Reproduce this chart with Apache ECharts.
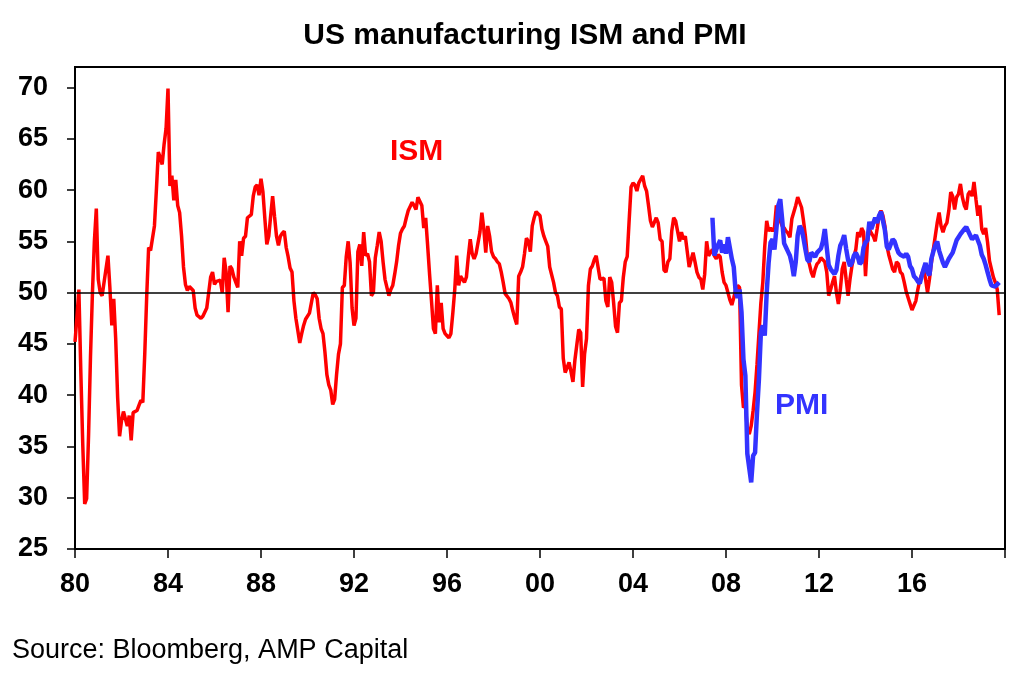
<!DOCTYPE html>
<html>
<head>
<meta charset="utf-8">
<script src="https://cdn.jsdelivr.net/npm/echarts@6/dist/echarts.min.js"></script>
<style>
  html, body { margin: 0; padding: 0; background: #fff; }
  #chart { width: 1024px; height: 673px; }
</style>
</head>
<body>
<div id="chart"></div>
<script>
// monthly readings, month-end; index 0 sits on the "80" tick (Dec 1979 month-end)
var ismStart = 0;
var ismValues = [
  45.2, 47.6, 50.3, 42.3, 35.2, 29.4, 29.9, 36.1, 43.8, 50.0, 55.0, 58.2,
  51.3, 50.0, 49.7, 51.0, 52.3, 53.6, 50.5, 46.8, 49.4, 45.5, 39.8, 36.0,
  37.5, 38.4, 38.5, 37.0, 38.0, 35.6, 38.3, 38.4, 38.5, 39.0, 39.5, 39.3,
  44.0, 49.6, 54.4, 54.1, 55.3, 56.5, 60.0, 63.7, 63.2, 62.5, 64.5, 66.0,
  69.9, 60.4, 61.4, 59.0, 61.0, 58.5, 57.8, 55.5, 52.5, 50.8, 50.2, 50.6,
  50.5, 50.2, 48.5, 47.8, 47.7, 47.5, 47.7, 47.7, 48.5, 50.0, 51.5, 52.0,
  50.8, 51.1, 51.2, 51.2, 50.0, 53.4, 52.0, 48.1, 52.6, 52.3, 51.5, 51.0,
  50.5, 55.0, 53.6, 55.3, 55.5, 57.3, 57.4, 57.6, 59.4, 60.3, 60.5, 59.5,
  61.1, 59.8, 57.2, 54.7, 55.5, 57.5, 59.4, 57.4, 55.5, 54.6, 55.5, 55.8,
  56.0, 54.4, 53.5, 52.4, 52.0, 49.2, 47.5, 46.3, 45.1, 46.0, 46.8, 47.4,
  47.4, 48.0, 49.0, 50.0, 49.8, 49.4, 47.5, 46.5, 46.0, 44.2, 42.0, 41.0,
  40.5, 39.1, 39.6, 42.0, 44.0, 45.0, 50.5, 50.7, 53.5, 55.0, 52.9, 48.5,
  46.8, 47.5, 54.0, 54.7, 52.6, 55.9, 53.6, 53.8, 53.0, 49.7, 50.0, 53.4,
  54.6, 55.9, 55.0, 53.0, 51.3, 51.3, 49.7, 50.3, 50.7, 51.8, 53.0, 54.6,
  55.8, 56.2, 56.5, 57.3, 58.0, 58.4, 58.8, 58.5, 58.1, 59.3, 59.3, 58.5,
  56.3, 57.3, 54.6, 51.8, 49.2, 46.5, 46.0, 50.7, 47.1, 49.0, 46.5, 46.0,
  45.8, 45.6, 46.0, 48.0, 50.3, 53.6, 50.7, 51.6, 51.5, 51.0, 51.5, 53.5,
  55.2, 53.8, 53.3, 53.8, 53.9, 55.9, 57.8, 56.2, 53.9, 56.5, 55.5, 54.0,
  53.5, 53.3, 53.0, 52.8, 52.0, 51.0, 49.9, 50.0, 49.4, 49.0, 48.2, 47.5,
  46.9, 51.6, 52.0, 52.5, 53.8, 55.3, 55.0, 54.0, 56.5, 57.3, 57.9, 58.0,
  57.5, 56.2, 55.5, 55.0, 54.5, 52.5, 52.6, 51.0, 50.0, 49.7, 48.6, 48.4,
  43.6, 42.2, 42.2, 43.2, 42.3, 41.3, 43.4, 43.5, 46.4, 46.1, 40.8, 44.0,
  45.5, 50.7, 52.3, 52.6, 53.2, 53.6, 53.6, 51.3, 51.3, 51.4, 49.2, 48.6,
  51.5, 51.0, 49.0, 46.7, 46.1, 49.0, 49.2, 51.5, 53.0, 53.5, 57.0, 60.3,
  60.7, 60.5, 59.9, 60.7, 60.7, 61.4, 60.4, 59.9, 58.5, 57.0, 56.4, 56.4,
  57.3, 56.8, 55.2, 55.0, 52.2, 52.0, 53.0, 53.3, 56.0, 57.3, 57.0, 56.0,
  55.0, 55.9, 55.2, 55.5, 54.0, 52.5, 52.5, 53.9, 53.0, 52.0, 51.5, 51.3,
  50.3, 51.8, 55.0, 53.6, 53.6, 54.2, 53.6, 53.3, 53.7, 53.5, 52.0, 51.0,
  50.7, 50.0, 49.3, 48.8, 49.5, 50.3, 50.7, 50.5, 41.0, 38.8, 39.0, 36.7,
  36.2, 37.0, 38.5, 40.3, 43.0, 46.0, 49.0, 51.0, 54.5, 57.0, 56.0, 56.3,
  56.0, 56.3, 58.5, 57.8, 57.0, 56.5, 56.3, 56.0, 55.8, 55.4, 57.2, 57.3,
  58.5, 59.3, 59.3, 58.3, 57.0, 55.5, 53.5, 52.8, 52.0, 51.5, 52.3, 52.8,
  53.0, 53.4, 53.3, 53.0, 52.0, 49.7, 50.3, 51.0, 51.6, 50.0, 48.9, 50.3,
  52.3, 53.0, 51.3, 49.7, 51.3, 52.6, 53.5, 54.2, 55.9, 55.4, 56.3, 55.9,
  51.6, 54.9, 56.2, 55.8, 55.5, 55.0, 56.2, 57.5, 58.0, 57.5, 56.5, 54.6,
  53.7, 53.0, 52.3, 52.0, 53.0, 52.8, 52.0, 51.8, 51.0, 50.1, 49.5, 48.9,
  48.3, 48.2, 49.2, 50.3, 51.2, 51.8, 52.3, 51.3, 50.0, 51.3, 52.9, 54.2,
  55.5, 56.8, 57.8, 56.5, 55.9, 56.5, 56.8, 58.0, 59.8, 59.4, 58.1, 59.3,
  59.6, 60.6, 59.3, 58.5, 58.1, 59.6, 59.9, 59.4, 60.8, 59.1, 57.5, 58.5,
  56.2, 55.7, 56.3, 54.9, 53.1, 52.3, 51.5, 51.0, 50.3, 47.8
];

// PMI starts May 2007
var pmiStart = 329;
var pmiValues = [
  57.3, 53.6, 54.2, 54.7, 55.1, 53.9, 54.7, 53.8, 55.4, 55.5, 53.3, 52.5,
  50.0, 49.5, 50.3, 48.1, 43.5, 41.9, 34.3, 34.4, 31.5, 34.1, 34.4, 38.3,
  41.6, 46.1, 46.8, 45.8, 50.0, 52.9, 54.9, 55.2, 54.2, 56.2, 58.5, 59.1,
  57.1, 54.8, 54.4, 54.0, 53.6, 52.8, 51.6, 53.0, 55.6, 56.5, 56.2, 55.3,
  54.2, 53.2, 53.0, 53.9, 53.8, 53.5, 53.9, 54.1, 54.3, 55.0, 56.2, 54.4,
  52.7, 52.3, 52.2, 51.8, 52.2, 53.6, 54.6, 55.0, 55.6, 54.3, 53.2, 52.6,
  52.9, 53.6, 53.9, 53.5, 52.8, 53.0, 54.4, 54.9, 55.1, 56.9, 56.2, 56.3,
  57.3, 56.8, 57.5, 57.9, 57.0, 56.1, 54.5, 54.2,
  54.3, 55.2, 55.0, 54.4, 53.9, 53.7, 53.6, 53.5, 53.8, 53.5, 52.6, 52.3,
  51.6, 51.4, 51.1, 50.9, 51.6, 52.3, 52.9, 52.0, 51.7, 53.3, 54.0, 54.6,
  55.0, 54.1, 53.5, 52.9, 52.5, 52.5, 53.3, 53.3, 53.9, 54.5, 55.1, 55.4,
  55.7, 55.7, 56.2, 56.4, 56.3, 55.6, 55.2, 55.4, 55.6, 55.6, 54.6, 53.7,
  53.3, 52.7, 52.0, 51.3, 50.7, 50.6, 50.6, 50.8, 51.0
];

var yTicks = [25, 30, 35, 40, 45, 50, 55, 60, 65, 70];
var xTickYears = [1980, 1984, 1988, 1992, 1996, 2000, 2004, 2008, 2012, 2016, 2020];
var xLabelYears = [1980, 1984, 1988, 1992, 1996, 2000, 2004, 2008, 2012, 2016];

var fontFamily = 'Arial, "Liberation Sans", sans-serif';

function toPoints(values, start) {
  return values.map(function (v, i) {
    return [1980 + (start + i) / 12, v];
  });
}

var chart = echarts.init(document.getElementById("chart"));
var option = {
  animation: false,
  backgroundColor: "#fff",
  grid: {
    left: 75,
    right: 19,
    top: 67,
    bottom: 124,
    show: true,
    borderColor: "#000",
    borderWidth: 2,
  },
  xAxis: {
    type: "value",
    min: 1980,
    max: 2020,
    interval: 4,
    axisLine: { lineStyle: { color: "#000", width: 2 } },
    axisTick: {
      inside: false,
      length: 9,
      customValues: xTickYears,
      lineStyle: { color: "#000", width: 1.5 },
    },
    splitLine: { show: false },
    axisLabel: {
      customValues: xLabelYears,
      margin: 22,
      color: "#000",
      fontSize: 27,
      fontWeight: "bold",
      fontFamily: fontFamily,
      formatter: function (v) {
        if (v >= 2020) return "";
        return String(v).slice(2);
      },
    },
  },
  yAxis: {
    type: "value",
    min: 25,
    max: 72,
    interval: 5,
    axisLine: { show: true, lineStyle: { color: "#000", width: 2 } },
    axisTick: {
      show: true,
      inside: false,
      length: 8,
      customValues: yTicks,
      lineStyle: { color: "#000", width: 1.5 },
    },
    splitLine: { show: false },
    axisLabel: {
      customValues: yTicks,
      margin: 27,
      color: "#000",
      fontSize: 27,
      fontWeight: "bold",
      fontFamily: fontFamily,
      formatter: function (v) {
        return v % 5 === 0 ? String(v) : "";
      },
    },
  },
  series: [
    {
      name: "ISM",
      type: "line",
      data: toPoints(ismValues, ismStart),
      symbol: "none",
      z: 2,
      lineStyle: { color: "#ff0000", width: 3.5 },
      itemStyle: { color: "#ff0000" },
      markLine: {
        silent: true,
        symbol: ["none", "none"],
        label: { show: false },
        lineStyle: { color: "#000", width: 1.5, type: "solid" },
        data: [{ yAxis: 50 }],
      },
    },
    {
      name: "PMI",
      type: "line",
      data: toPoints(pmiValues, pmiStart),
      symbol: "none",
      z: 3,
      lineStyle: { color: "#3333ff", width: 4.5 },
      itemStyle: { color: "#3333ff" },
    },
  ],
  graphic: [
    {
      type: "text",
      x: 525,
      y: 36,
      style: {
        text: "US manufacturing ISM and PMI",
        font: "bold 30px " + fontFamily,
        fill: "#000",
        textAlign: "center",
        textVerticalAlign: "middle",
      },
    },
    {
      type: "text",
      x: 390,
      y: 152,
      style: {
        text: "ISM",
        font: "bold 30px " + fontFamily,
        fill: "#ff0000",
        textAlign: "left",
        textVerticalAlign: "middle",
      },
    },
    {
      type: "text",
      x: 775,
      y: 406,
      style: {
        text: "PMI",
        font: "bold 30px " + fontFamily,
        fill: "#3333ff",
        textAlign: "left",
        textVerticalAlign: "middle",
      },
    },
    {
      type: "text",
      x: 12,
      y: 651,
      style: {
        text: "Source: Bloomberg, AMP Capital",
        font: "27px " + fontFamily,
        fill: "#000",
        textAlign: "left",
        textVerticalAlign: "middle",
      },
    },
  ],
};
chart.setOption(option);
</script>
</body>
</html>
